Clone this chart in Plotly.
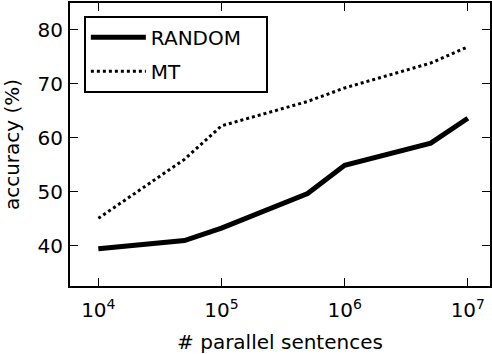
import plotly.graph_objects as go

sentences = [1e4, 5e4, 1e5, 5e5, 1e6, 5e6, 1e7]
random_acc = [39.5, 41.0, 43.3, 49.7, 54.9, 59.0, 63.6]
mt_acc = [45.1, 56.0, 62.2, 66.7, 69.2, 73.8, 76.8]

xtick_vals = [1e4, 1e5, 1e6, 1e7]
xtick_text = ["10<sup>4</sup>", "10<sup>5</sup>", "10<sup>6</sup>", "10<sup>7</sup>"]
ytick_vals = [40, 50, 60, 70, 80]

fig = go.Figure()
# trailing &nbsp; pads the legend box on the right like the original
fig.add_trace(go.Scatter(x=sentences, y=random_acc, mode="lines", name="RANDOM&nbsp;&nbsp;&nbsp;",
                         legendgroup="r", line=dict(color="black", width=5)))
fig.add_trace(go.Scatter(x=sentences, y=mt_acc, mode="lines", name="MT",
                         legendgroup="m", line=dict(color="black", width=3, dash="dot")))

axis_style = dict(showline=True, linecolor="black", linewidth=2, mirror="allticks",
                  ticks="inside", ticklen=8, tickwidth=1, tickcolor="black",
                  showgrid=False, zeroline=False, automargin=False,
                  tickfont=dict(family="DejaVu Sans", size=20, color="black"))

fig.update_xaxes(type="log", range=[3.77, 7.18], tickvals=xtick_vals, ticktext=xtick_text,
                 ticklabelstandoff=5,
                 title=dict(text="# parallel sentences",
                            font=dict(family="DejaVu Sans", size=20, color="black")),
                 **axis_style)
fig.update_yaxes(range=[32.6, 84.9], tickvals=ytick_vals, ticklabelstandoff=1,
                 title=dict(text="accuracy (%)",
                            font=dict(family="DejaVu Sans", size=20, color="black")),
                 **axis_style)

fig.update_layout(
    width=492, height=354,
    margin=dict(l=70, r=2, t=3, b=68),
    plot_bgcolor="white", paper_bgcolor="white",
    font=dict(family="DejaVu Sans", size=20, color="black"),
    legend=dict(x=0.033, y=0.955, xanchor="left", yanchor="top",
                bordercolor="black", borderwidth=2, bgcolor="white",
                font=dict(size=20), itemwidth=55,
                traceorder="grouped", tracegroupgap=5),
)

# page body has a default 8px margin; drop it so the figure sits at the corner
fig.write_html("out.html", config={"displayModeBar": False},
               post_script="document.body.style.margin='0';")
